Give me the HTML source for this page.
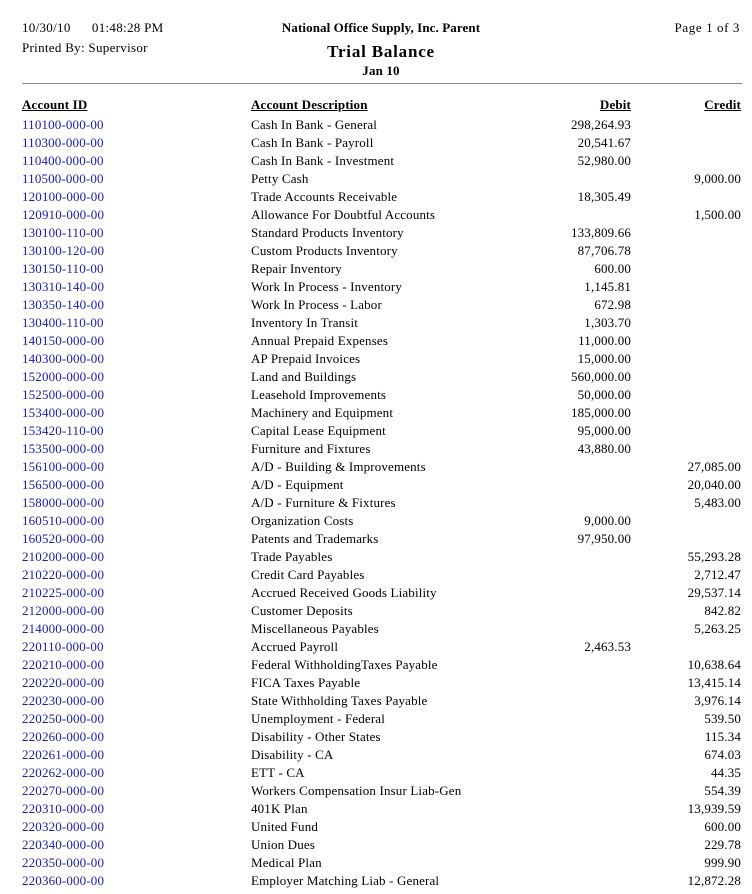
<!DOCTYPE html>
<html><head><meta charset="utf-8"><style>
body{margin:0;width:752px;height:894px;background:#fff;font-family:"Liberation Serif",serif;font-size:13px;letter-spacing:0.15px;color:#000;position:relative;overflow:hidden}
.a{position:absolute;white-space:nowrap;line-height:14px}
.row{position:absolute;left:0;width:752px;height:18px;line-height:18px}
.row span{position:absolute;white-space:nowrap}
.id{left:22px;color:#1a1ab4}
.ds{left:251px}
.db{right:121px}
.cr{right:11px}
.h{font-weight:bold;text-decoration:underline}
</style></head><body>
<div class="a" style="left:22px;top:21px;letter-spacing:0.3px">10/30/10&nbsp;&nbsp;&nbsp;&nbsp;&nbsp;&nbsp;01:48:28 PM</div>
<div class="a" style="left:22px;top:41px;letter-spacing:0.3px">Printed By: Supervisor</div>
<div class="a" style="left:261px;top:21px;width:240px;text-align:center;font-weight:bold;letter-spacing:0.1px">National Office Supply, Inc. Parent</div>
<div class="a" style="left:261px;top:42px;width:240px;text-align:center;font-weight:bold;font-size:17px;letter-spacing:0.8px;line-height:20px">Trial Balance</div>
<div class="a" style="left:261px;top:64px;width:240px;text-align:center;font-weight:bold">Jan 10</div>
<div class="a" style="right:12px;top:21px;letter-spacing:0.6px">Page 1 of 3</div>
<div style="position:absolute;left:22px;top:83px;width:720px;height:1px;background:#888"></div>
<div class="row" style="top:96px"><span class="id h" style="color:#000">Account ID</span><span class="ds h">Account Description</span><span class="db h">Debit</span><span class="cr h">Credit</span></div>
<div id="rows"></div>
<script>
var d=[
["110100-000-00","Cash In Bank - General","298,264.93",""],
["110300-000-00","Cash In Bank - Payroll","20,541.67",""],
["110400-000-00","Cash In Bank - Investment","52,980.00",""],
["110500-000-00","Petty Cash","","9,000.00"],
["120100-000-00","Trade Accounts Receivable","18,305.49",""],
["120910-000-00","Allowance For Doubtful Accounts","","1,500.00"],
["130100-110-00","Standard Products Inventory","133,809.66",""],
["130100-120-00","Custom Products Inventory","87,706.78",""],
["130150-110-00","Repair Inventory","600.00",""],
["130310-140-00","Work In Process - Inventory","1,145.81",""],
["130350-140-00","Work In Process - Labor","672.98",""],
["130400-110-00","Inventory In Transit","1,303.70",""],
["140150-000-00","Annual Prepaid Expenses","11,000.00",""],
["140300-000-00","AP Prepaid Invoices","15,000.00",""],
["152000-000-00","Land and Buildings","560,000.00",""],
["152500-000-00","Leasehold Improvements","50,000.00",""],
["153400-000-00","Machinery and Equipment","185,000.00",""],
["153420-110-00","Capital Lease Equipment","95,000.00",""],
["153500-000-00","Furniture and Fixtures","43,880.00",""],
["156100-000-00","A/D - Building & Improvements","","27,085.00"],
["156500-000-00","A/D - Equipment","","20,040.00"],
["158000-000-00","A/D - Furniture & Fixtures","","5,483.00"],
["160510-000-00","Organization Costs","9,000.00",""],
["160520-000-00","Patents and Trademarks","97,950.00",""],
["210200-000-00","Trade Payables","","55,293.28"],
["210220-000-00","Credit Card Payables","","2,712.47"],
["210225-000-00","Accrued Received Goods Liability","","29,537.14"],
["212000-000-00","Customer Deposits","","842.82"],
["214000-000-00","Miscellaneous Payables","","5,263.25"],
["220110-000-00","Accrued Payroll","2,463.53",""],
["220210-000-00","Federal WithholdingTaxes Payable","","10,638.64"],
["220220-000-00","FICA Taxes Payable","","13,415.14"],
["220230-000-00","State Withholding Taxes Payable","","3,976.14"],
["220250-000-00","Unemployment - Federal","","539.50"],
["220260-000-00","Disability - Other States","","115.34"],
["220261-000-00","Disability - CA","","674.03"],
["220262-000-00","ETT - CA","","44.35"],
["220270-000-00","Workers Compensation Insur Liab-Gen","","554.39"],
["220310-000-00","401K Plan","","13,939.59"],
["220320-000-00","United Fund","","600.00"],
["220340-000-00","Union Dues","","229.78"],
["220350-000-00","Medical Plan","","999.90"],
["220360-000-00","Employer Matching Liab - General","","12,872.28"]];
var h="";d.forEach(function(r,i){h+='<div class="row" style="top:'+(116+i*18)+'px"><span class="id">'+r[0]+'</span><span class="ds">'+r[1].replace("&","&amp;")+'</span><span class="db">'+r[2]+'</span><span class="cr">'+r[3]+'</span></div>';});
document.getElementById("rows").innerHTML=h;
</script>
</body></html>
